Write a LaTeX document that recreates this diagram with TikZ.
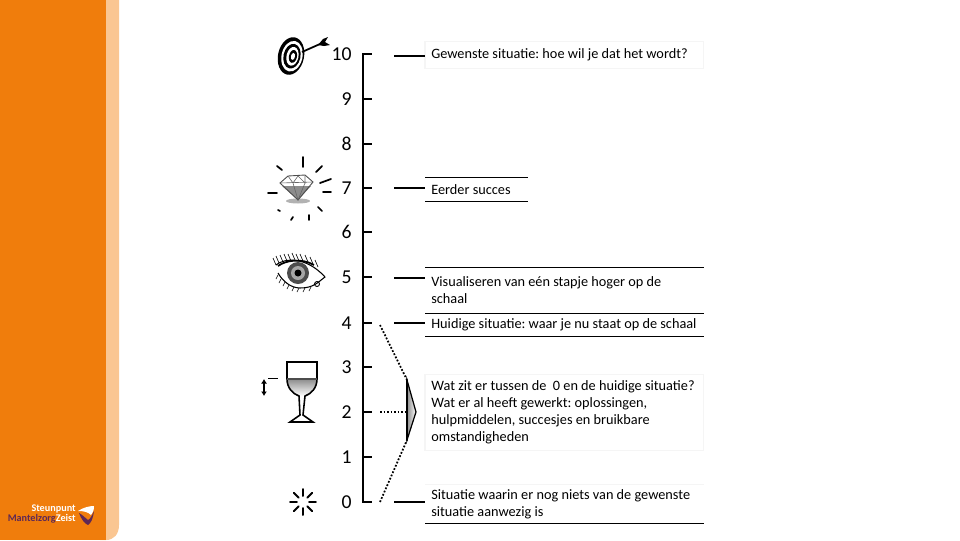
\documentclass[tikz,border=0pt]{standalone}
\usepackage{fontspec}
\setmainfont{Carlito}
\usetikzlibrary{positioning,arrows.meta}
\definecolor{bandA}{RGB}{240,125,12}
\definecolor{bandB}{RGB}{250,198,146}
\definecolor{logoP}{RGB}{95,40,85}
\definecolor{faint}{RGB}{245,245,245}
\tikzset{
  numlab/.style={anchor=east,font=\fontsize{11.2}{12}\selectfont,inner sep=0pt},
  txtbox/.style={anchor=west,align=left,inner sep=0pt,inner xsep=3.4pt,text width=53.2mm,font=\fontsize{8.13}{9.7}\selectfont,
    execute at begin node={\spaceskip=.226em\relax\xspaceskip=.226em\relax}},
  axisline/.style={line width=1.4pt,line cap=butt},
  tickline/.style={line width=1pt},
  leadline/.style={line width=1pt},
  boxline/.style={line width=.5pt},
  faintline/.style={faint,line width=.6pt},
  dotline/.style={line width=1pt,densely dotted},
  ray/.style={line width=1pt,line cap=round},
  logotxt/.style={inner sep=0pt,anchor=east,font=\fontsize{5.8}{6}\selectfont\bfseries},
}
\begin{document}
\begin{tikzpicture}[x=0.2mm,y=-0.2mm]
  \useasboundingbox (0,0) rectangle (960,540);
  % side band
  \fill[bandB] (100,0) -- (119,0) -- (119,525) .. controls (119,534) and (114,540) .. (106,540) -- (100,540) -- cycle;
  \fill[bandA] (0,0) rectangle (106,540);
  % logo
  \node[logotxt,text=white] (logotop) at (76,509) {Steunpunt};
  \node[logotxt] (logobot) at (76,519) {\textcolor{logoP}{Mantelzorg}\textcolor{white}{Zeist}};
  \fill[white] (78,511) .. controls (84,507) and (90,506) .. (94,506) .. controls (94,510) and (93,513) .. (91,515) .. controls (88,512) and (84,511) .. (78,511) -- cycle;
  \fill[logoP] (79,513) .. controls (81,519) and (85,524) .. (88,525) .. controls (91,523) and (93,519) .. (94,511) .. controls (92,516) and (90,519) .. (88,520) .. controls (85,518) and (83,515) .. (79,513) -- cycle;
  % scale
  \coordinate (axtop) at (363,53);
  \coordinate (axbot) at (363,503);
  \draw[axisline] (axtop) -- (axbot);
  \foreach \lab/\y in {10/54,9/99,8/144,7/188,6/232,5/277,4/323,3/367,2/412,1/457,0/502}{
     \coordinate (tk\lab) at (363,\y);
     \coordinate (te\lab) at (372,\y);
     \draw[tickline] (tk\lab) -- (te\lab);
     \node[numlab] (num\lab) at (352,\y) {\lab};}
  % text boxes
  \node[txtbox,minimum height=5.2mm] (bxwens) at (425,55) {\mbox{Gewenste situatie: hoe wil je dat het wordt?}};
  \node[txtbox,text width=18mm,minimum height=4.6mm] (bxsucc) at (425,189.5) {Eerder succes};
  \node[txtbox,minimum height=9mm] (bxvisu) at (425,290.5) {\mbox{Visualiseren van eén stapje hoger op de}\\schaal};
  \node[txtbox,minimum height=4.6mm] (bxhuid) at (425,324.5) {\mbox{Huidige situatie: waar je nu staat op de schaal}};
  \node[txtbox,minimum height=15mm] (bxtuss) at (425,412.5) {\mbox{Wat zit er tussen de\ \ 0 en de huidige situatie?}\\\mbox{Wat er al heeft gewerkt: oplossingen,}\\\mbox{hulpmiddelen, succesjes en bruikbare}\\omstandigheden};
  \node[txtbox,minimum height=7.6mm] (bxnul) at (425,504) {\mbox{Situatie waarin er nog niets van de gewenste}\\\mbox{situatie aanwezig is}};
  \draw[boxline] (bxsucc.north west) -- (bxsucc.north east);
  \draw[boxline] (bxsucc.south west) -- (bxsucc.south east);
  \draw[boxline] (bxvisu.north west) -- (bxvisu.north east);
  \draw[boxline] (bxvisu.south west) -- (bxvisu.south east);
  \draw[boxline] (bxhuid.south west) -- (bxhuid.south east);
  \draw[boxline] (bxnul.south west) -- (bxnul.south east);
  \draw[faintline] (bxwens.north west) -- (bxwens.north east) -- (bxwens.south east) -- (bxwens.south west) -- cycle;
  \draw[faintline] (bxtuss.north west) -- (bxtuss.north east) -- (bxtuss.south east) -- (bxtuss.south west) -- cycle;
  \draw[faintline] (bxnul.north west) -- (bxnul.north east);
  % leads
  \foreach \lab/\bx/\y in {10/bxwens/56,7/bxsucc/188,5/bxvisu/278,4/bxhuid/323,0/bxnul/502}{
     \coordinate (ld\lab) at (394,\y);
     \draw[leadline] (ld\lab) -- (ld\lab -| \bx.west);}
  % brace
  \coordinate (brtop) at (407,380);
  \coordinate (brmid) at (416,412);
  \coordinate (brbot) at (407,440);
  \coordinate (dot4) at (380,325);
  \coordinate (dot2) at (380,412);
  \coordinate (dot0) at (380,502);
  \filldraw[left color=black!45,right color=white,draw=black,line width=.7pt] (brtop) -- (brmid) -- (brbot) -- cycle;
  \draw[line width=1.3pt] (brtop) -- (brbot);
  \draw[dotline] (dot4) -- (brtop);
  \draw[dotline] (dot2) -- (brtop |- dot2);
  \draw[dotline] (dot0) -- (brbot);
  % target
  \fill[black,rotate around={-12:(291,56)}] (291,56) ellipse (13 and 19);
  \fill[white,rotate around={-12:(291,56)}] (292,56) ellipse (10.5 and 15.5);
  \fill[black,rotate around={-12:(291,56)}] (292,56) ellipse (8.5 and 12.5);
  \fill[white,rotate around={-12:(291,56)}] (292.5,56) ellipse (6 and 9.5);
  \fill[black,rotate around={-12:(291,56)}] (293,56) ellipse (4 and 6.5);
  \fill[white,rotate around={-12:(291,56)}] (293,56) ellipse (2 and 3.5);
  \draw[line width=1pt] (302,52) -- (320,44);
  \fill[black] (318,45) -- (323,39) -- (328,37) -- (325,42) -- (330,45) -- (324,46) -- cycle;
  % diamond
  \fill[black!30] (298,201) ellipse (12 and 2.5);
  \fill[black!45] (282,186) -- (311,186) -- (298,200) -- cycle;
  \draw[black!70,line width=.5pt] (280,183) -- (288,176) -- (305,175) -- (313,182) -- (298,200) -- cycle;
  \draw[black!60,line width=.35pt] (280,183) -- (313,182) (288,176) -- (293,183) -- (298,176) -- (305,183) -- (305,175) (293,183) -- (298,200) -- (305,183);
  \foreach \ax/\ay/\bx/\by in {303/157/303/167,277/166/282/170,322/166/316/172,331/179/320/183,323/192/331/192,268/193/277/193,318/207/322/211,309/215/309/220,293/217/291/220,278/210/280/211}{
     \draw[ray] (\ax,\ay) -- (\bx,\by);}
  % eye
  \draw[line width=.6pt] (276,265) .. controls (284,258) and (306,256) .. (325,277) .. controls (318,282) and (314,288) .. (300,288) .. controls (290,288) and (282,280) .. (278,273);
  \fill[black!70] (298,273) circle (11);
  \fill[black!35] (298,273) circle (7);
  \fill[black] (298,273) circle (3.5);
  \draw[line width=1pt] (278,266) .. controls (286,260) and (302,258) .. (314,265);
  \draw[line width=.5pt] (317,284) circle (2.5);
  \foreach \ex/\ey in {273/258,276/256,280/255,284/254,288/254,292/253,296/254,300/254,305/255,310/257,315/260}{
     \draw[line width=.35pt] (\ex+3,\ey+7) -- (\ex,\ey);}
  \foreach \ex/\ey in {276/279,279/283,283/286,287/289,292/291,297/292,303/292,309/291}{
     \draw[line width=.35pt] (\ex+2,\ey-4) -- (\ex,\ey);}
  % glass
  \shade[top color=black!45,bottom color=white,draw=none] (287,379) -- (317,379) .. controls (317,386) and (312,393) .. (302,396) .. controls (292,393) and (287,386) .. (287,379) -- cycle;
  \draw[line width=.9pt] (287,379) -- (287,362) -- (317,362) -- (317,379) .. controls (317,388) and (311,394) .. (305,396) -- (303,415) -- (313,422) -- (290,422) -- (300,415) -- (299,396) .. controls (293,394) and (287,388) .. (287,379) -- cycle;
  \draw[line width=.6pt,black!70] (287,379) -- (317,379);
  \coordinate (dashl) at (268,378);
  \coordinate (dashr) at (278,378);
  \draw[line width=.5pt] (dashl) -- (dashr);
  \coordinate (arwtop) at (264,379);
  \coordinate (arwbot) at (264,396);
  \draw[line width=1.1pt,{Latex[length=.9mm,width=1.2mm]}-{Latex[length=.9mm,width=1.2mm]}] (arwtop) -- (arwbot);
  % burst
  \foreach \a in {0,45,...,315}{
     \draw[ray,line width=1.1pt] (303,502) ++(\a:6) -- ++(\a:7);}
\end{tikzpicture}
\end{document}
